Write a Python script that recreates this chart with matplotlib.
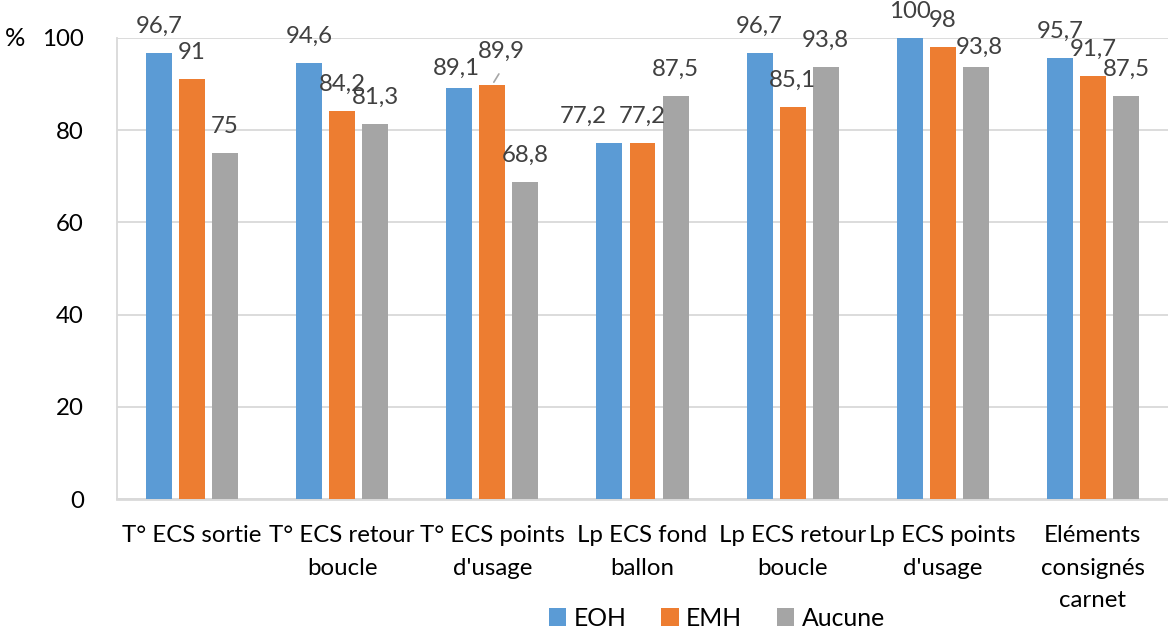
import numpy as np
import matplotlib
matplotlib.use("Agg")
import matplotlib.pyplot as plt

# Données du graphique (pourcentages)
categories = ["T° ECS sortie", "T° ECS retour\nboucle", "T° ECS points\nd'usage",
              "Lp ECS fond\nballon", "Lp ECS retour\nboucle", "Lp ECS points\nd'usage",
              "Eléments\nconsignés\ncarnet"]
series_names = ["EOH", "EMH", "Aucune"]
eoh = [96.7, 94.6, 89.1, 77.2, 96.7, 100, 95.7]
emh = [91, 84.2, 89.9, 77.2, 85.1, 98, 91.7]
aucune = [75, 81.3, 68.8, 87.5, 93.8, 93.8, 87.5]
y_ticks = [0, 20, 40, 60, 80, 100]

couleurs = ["#5B9BD5", "#ED7D31", "#A5A5A5"]
plt.rcParams['font.family'] = ['Lato', 'DejaVu Sans']
taille = 17.3

fig = plt.figure(figsize=(11.68, 6.35), dpi=100)
ax = fig.add_axes([117 / 1168, 1 - 499 / 635, 1 - 117 / 1168, (499 - 38) / 635])

x = np.arange(len(categories))
largeur = 0.173
pas = 0.22

# décalages particuliers des étiquettes (px) : (serie, categorie) -> (dx, dy)
decalages = {(0, 2): (-3, 13), (1, 2): (9, 27), (0, 3): (-26, 20), (2, 5): (3, 13)}

for i, valeurs in enumerate([eoh, emh, aucune]):
    pos = x + (i - 1) * pas
    ax.bar(pos, valeurs, width=largeur, color=couleurs[i], label=series_names[i], zorder=3)
    for j, v in enumerate(valeurs):
        dx, dy = decalages.get((i, j), (0, 20))
        txt = f"{v:g}".replace(".", ",")
        ax.annotate(txt, (pos[j], v), xytext=(dx, dy), textcoords='offset pixels',
                    ha='center', va='baseline', fontsize=taille, color='#404040', zorder=4)
        if (i, j) == (1, 2):
            # petit trait de rappel vers la barre
            ax.annotate("", (pos[j], v), xytext=(8, 13), textcoords='offset pixels',
                        arrowprops=dict(arrowstyle='-', color='#A6A6A6', lw=1.2))

ax.set_xlim(-0.5, len(categories) - 0.5)
ax.set_ylim(0, 100)
ax.set_yticks(y_ticks)
ax.set_xticks(x)
ax.set_xticklabels(categories, fontsize=taille, linespacing=1.66)
ax.tick_params(axis='y', length=0, pad=24, labelsize=taille)
ax.tick_params(axis='x', length=0, pad=19)
ax.yaxis.grid(True, color='#D9D9D9', linewidth=1.3, zorder=0)
ax.set_axisbelow(True)
for s in ['top', 'right']:
    ax.spines[s].set_visible(False)
for s in ['left', 'bottom']:
    ax.spines[s].set_color('#D9D9D9')
ax.spines['left'].set_linewidth(1.3)
ax.spines['bottom'].set_linewidth(2)

fig.text(15 / 1168, 1 - 38 / 635, "%", ha='center', va='center', fontsize=taille + 1)

fig.legend(loc='center', bbox_to_anchor=(717 / 1168, 1 - 618 / 635), ncol=3, frameon=False,
           fontsize=taille + 0.5, handlelength=0.7, handleheight=0.7, handletextpad=0.3,
           columnspacing=1.4)

fig.savefig("out.png", dpi=100)
